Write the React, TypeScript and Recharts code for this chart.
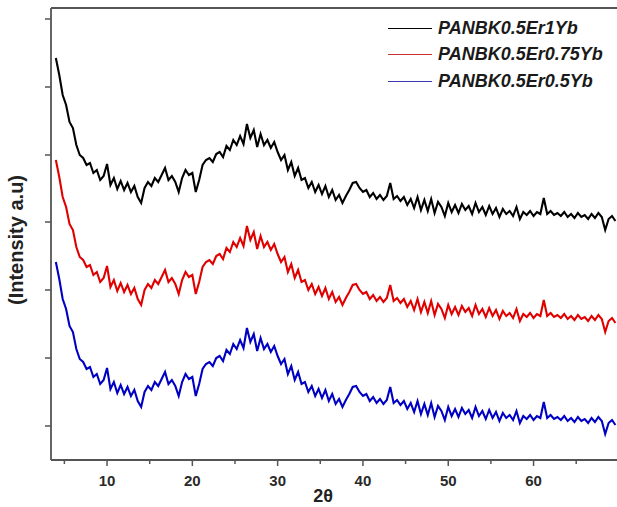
import React from "react";
import { LineChart, Line, XAxis, YAxis, ReferenceLine } from "recharts";

// 2θ scan positions (degrees)
const twoTheta = [
  4.0, 4.4, 4.8, 5.2, 5.6, 6.0, 6.4, 6.8, 7.2, 7.6,
  8.0, 8.4, 8.8, 9.2, 9.6, 10.0, 10.4, 10.8, 11.2, 11.6,
  12.0, 12.4, 12.8, 13.2, 13.6, 14.0, 14.4, 14.8, 15.2, 15.6,
  16.0, 16.4, 16.8, 17.2, 17.6, 18.0, 18.4, 18.8, 19.2, 19.6,
  20.0, 20.4, 20.8, 21.2, 21.6, 22.0, 22.4, 22.8, 23.2, 23.6,
  24.0, 24.4, 24.8, 25.2, 25.6, 26.0, 26.4, 26.8, 27.2, 27.6,
  28.0, 28.4, 28.8, 29.2, 29.6, 30.0, 30.4, 30.8, 31.2, 31.6,
  32.0, 32.4, 32.8, 33.2, 33.6, 34.0, 34.4, 34.8, 35.2, 35.6,
  36.0, 36.4, 36.8, 37.2, 37.6, 38.0, 38.4, 38.8, 39.2, 39.6,
  40.0, 40.4, 40.8, 41.2, 41.6, 42.0, 42.4, 42.8, 43.2, 43.6,
  44.0, 44.4, 44.8, 45.2, 45.6, 46.0, 46.4, 46.8, 47.2, 47.6,
  48.0, 48.4, 48.8, 49.2, 49.6, 50.0, 50.4, 50.8, 51.2, 51.6,
  52.0, 52.4, 52.8, 53.2, 53.6, 54.0, 54.4, 54.8, 55.2, 55.6,
  56.0, 56.4, 56.8, 57.2, 57.6, 58.0, 58.4, 58.8, 59.2, 59.6,
  60.0, 60.4, 60.8, 61.2, 61.6, 62.0, 62.4, 62.8, 63.2, 63.6,
  64.0, 64.4, 64.8, 65.2, 65.6, 66.0, 66.4, 66.8, 67.2, 67.6,
  68.0, 68.4, 68.8, 69.2, 69.6,
];

// intensities (a.u., stacked with offsets as in the figure)
const er1Yb = [
  402, 385, 365, 355, 338, 332, 315, 305, 302, 295,
  297, 287, 290, 280, 284, 296, 275, 282, 271, 279,
  270, 277, 268, 274, 263, 257, 272, 278, 274, 282,
  278, 285, 292, 280, 284, 278, 268, 282, 290, 285,
  287, 268, 280, 295, 300, 302, 298, 306, 308, 303,
  314, 310, 320, 315, 324, 316, 336, 322, 330, 313,
  326, 315, 320, 312, 318, 308, 300, 305, 290, 298,
  284, 292, 280, 282, 272, 278, 268, 275, 266, 274,
  263, 270, 260, 265, 257, 264, 270, 277, 278, 272,
  268, 270, 263, 267, 261, 265, 260, 264, 277, 261,
  264, 259, 263, 255, 261, 252, 263, 250, 260, 249,
  261, 247, 258, 253, 244, 257, 248, 255, 247, 256,
  250, 254, 246, 257, 248, 253, 245, 254, 246, 252,
  243, 251, 246, 249, 244, 253, 241, 248, 245, 249,
  244, 248, 246, 262, 246, 249, 245, 247, 244, 248,
  243, 246, 242, 247, 243, 245, 241, 246, 242, 247,
  243, 230, 241, 244, 239,
];

const er075Yb = [
  300, 283, 263, 253, 236, 230, 213, 203, 200, 193,
  195, 185, 188, 178, 182, 194, 173, 180, 169, 177,
  168, 175, 166, 172, 161, 155, 170, 176, 172, 180,
  176, 183, 190, 178, 182, 176, 166, 180, 188, 183,
  185, 166, 178, 193, 198, 200, 196, 204, 206, 201,
  212, 208, 218, 213, 222, 214, 234, 220, 228, 211,
  224, 213, 218, 210, 216, 206, 198, 203, 188, 196,
  182, 190, 178, 180, 170, 176, 166, 173, 164, 172,
  161, 168, 158, 163, 155, 162, 168, 175, 176, 170,
  166, 168, 161, 165, 159, 163, 158, 162, 175, 159,
  162, 157, 161, 153, 159, 150, 161, 148, 158, 147,
  159, 145, 156, 151, 142, 155, 146, 153, 145, 154,
  148, 152, 144, 155, 146, 151, 143, 152, 144, 150,
  141, 149, 144, 147, 142, 151, 139, 146, 143, 147,
  142, 146, 144, 160, 144, 147, 143, 145, 142, 146,
  141, 144, 140, 145, 141, 143, 139, 144, 140, 145,
  141, 128, 139, 142, 137,
];

const er05Yb = [
  198, 181, 161, 151, 134, 128, 111, 101, 98, 91,
  93, 83, 86, 76, 80, 92, 71, 78, 67, 75,
  66, 73, 64, 70, 59, 53, 68, 74, 70, 78,
  74, 81, 88, 76, 80, 74, 64, 78, 86, 81,
  83, 64, 76, 91, 96, 98, 94, 102, 104, 99,
  110, 106, 116, 111, 120, 112, 132, 118, 126, 109,
  122, 111, 116, 108, 114, 104, 96, 101, 86, 94,
  80, 88, 76, 78, 68, 74, 64, 71, 62, 70,
  59, 66, 56, 61, 53, 60, 66, 73, 74, 68,
  64, 66, 59, 63, 57, 61, 56, 60, 73, 57,
  60, 55, 59, 51, 57, 48, 59, 46, 56, 45,
  57, 43, 54, 49, 40, 53, 44, 51, 43, 52,
  46, 50, 42, 53, 44, 49, 41, 50, 42, 48,
  39, 47, 42, 45, 40, 49, 37, 44, 41, 45,
  40, 44, 42, 58, 42, 45, 41, 43, 40, 44,
  39, 42, 38, 43, 39, 41, 37, 42, 38, 43,
  39, 26, 37, 40, 35,
];

const xTicks = [5, 10, 15, 20, 25, 30, 35, 40, 45, 50, 55, 60, 65];
const yTicks = [34, 102, 170, 238, 305, 373, 441];
const seriesNames = ["PANBK0.5Er1Yb", "PANBK0.5Er0.75Yb", "PANBK0.5Er0.5Yb"];
const seriesKeys = ["a", "b", "c"];
const seriesColors = ["#000000", "#e00000", "#0000c4"];
const legendColors = ["#000000", "#c83232", "#3a3ab0"];

const data = twoTheta.map((t, i) => ({
  t,
  a: er1Yb[i],
  b: er075Yb[i],
  c: er05Yb[i],
}));

const FONT = '"Liberation Sans", Arial, sans-serif';
const AXIS = "#555";

const XTick = ({ x, y, payload }: any) => {
  const major = payload.value % 10 === 0;
  return (
    <g>
      <line x1={x} x2={x} y1={y} y2={y + (major ? 6 : 4)} stroke={AXIS} strokeWidth={1.5} />
      {major && (
        <text
          x={x}
          y={y}
          dy={26}
          textAnchor="middle"
          fontFamily={FONT}
          fontWeight={700}
          fontSize={15}
          fill="#2a2a2a"
        >
          {payload.value}
        </text>
      )}
    </g>
  );
};

const YTick = ({ x, y }: any) => (
  <line x1={x - 6} x2={x} y1={y} y2={y} stroke={AXIS} strokeWidth={1.5} />
);

// legend drawn as an overlay so it does not shrink the plot area
const ChartLegend = () => (
  <div
    style={{
      position: "absolute",
      top: 15,
      left: 388,
      fontFamily: FONT,
      fontWeight: 700,
      fontStyle: "italic",
      fontSize: 18,
      color: "#1a1a1a",
      whiteSpace: "nowrap",
    }}
  >
    {seriesNames.map((name, i) => (
      <div key={name} style={{ display: "flex", alignItems: "center", height: 26.5 }}>
        <span
          style={{
            display: "inline-block",
            width: 44,
            height: 0,
            borderTop: `1.5px solid ${legendColors[i]}`,
            marginRight: 6,
          }}
        />
        {name}
      </div>
    ))}
  </div>
);

export default function App() {
  return (
    <div style={{ width: 617, height: 507, overflow: "hidden", position: "relative", background: "#fff" }}>
      <style>{`body{margin:0}`}</style>
      <LineChart
        width={622}
        height={507}
        data={data}
        margin={{ top: 8, right: 0, bottom: 0, left: 0 }}
      >
        <XAxis
          dataKey="t"
          type="number"
          domain={[3.43, 70.37]}
          ticks={xTicks}
          tick={<XTick />}
          tickLine={false}
          tickSize={0}
          tickMargin={0}
          height={47}
          axisLine={{ stroke: AXIS, strokeWidth: 1.8 }}
          label={{
            content: () => (
              <text x={323} y={502} textAnchor="middle" fontFamily={FONT} fontWeight={700} fontSize={18} fill="#222">
                2θ
              </text>
            ),
          }}
        />
        <YAxis
          type="number"
          domain={[0, 452]}
          ticks={yTicks}
          tick={<YTick />}
          tickLine={false}
          tickSize={0}
          tickMargin={0}
          width={51}
          axisLine={{ stroke: AXIS, strokeWidth: 1.8 }}
          label={{
            content: () => (
              <text
                x={23}
                y={240}
                transform="rotate(-90 23 240)"
                textAnchor="middle"
                fontFamily={FONT}
                fontWeight={700}
                fontSize={20}
                fill="#222"
              >
                (Intensity a.u)
              </text>
            ),
          }}
        />
        <ReferenceLine y={452} stroke={AXIS} strokeWidth={1.8} />
        {seriesKeys.map((k, i) => (
          <Line
            key={k}
            type="linear"
            dataKey={k}
            name={seriesNames[i]}
            stroke={seriesColors[i]}
            strokeWidth={2.1}
            strokeLinejoin="miter"
            dot={false}
            isAnimationActive={false}
          />
        ))}
      </LineChart>
      <ChartLegend />
    </div>
  );
}
